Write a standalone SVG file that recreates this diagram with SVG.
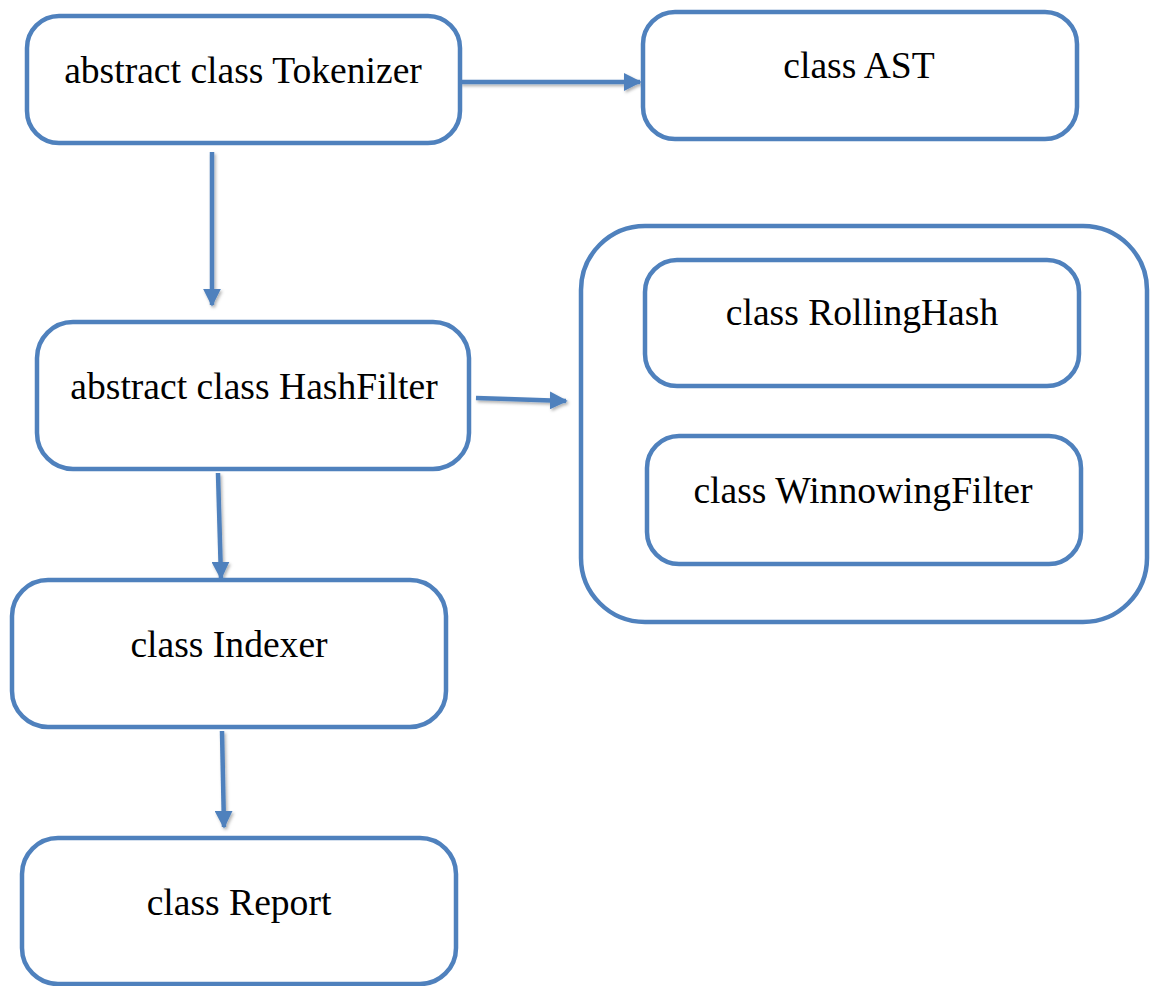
<svg xmlns="http://www.w3.org/2000/svg" width="1157" height="986" viewBox="0 0 1157 986">
<style>
.box{fill:#ffffff;stroke:#4F81BD;stroke-width:4.5}
.lbl{font-family:"Liberation Serif","Times New Roman",serif;font-size:37.6px;fill:#000;text-anchor:middle}
.conn{stroke:#4F81BD;stroke-width:4.5;fill:none;marker-end:url(#ah)}
</style>
<defs>
<marker id="ah" markerWidth="4" markerHeight="4" viewBox="0 0 10 10" refX="9" refY="5" orient="auto" markerUnits="strokeWidth">
<path d="M0,0 L10,5 L0,10 z" fill="#4F81BD"/>
</marker>
<filter id="sh" x="-20%" y="-20%" width="140%" height="140%">
<feDropShadow dx="1.5" dy="2" stdDeviation="1.5" flood-color="#000" flood-opacity="0.3"/>
</filter>
</defs>
<rect width="1157" height="986" fill="#ffffff"/>
<g id="connectors" filter="url(#sh)">
<line class="conn" x1="460" y1="82" x2="640" y2="82"/>
<line class="conn" x1="212" y1="152" x2="212" y2="305"/>
<line class="conn" x1="476" y1="398" x2="566" y2="401"/>
<line class="conn" x1="218" y1="473" x2="221" y2="578"/>
<line class="conn" x1="222" y1="731" x2="224" y2="827"/>
</g>
<g id="tokenizer"><rect class="box" x="27" y="16" width="433" height="127" rx="32"/><text class="lbl" x="243" y="83">abstract class Tokenizer</text></g>
<g id="ast"><rect class="box" x="643" y="12" width="434" height="127" rx="32"/><text class="lbl" x="859" y="78">class AST</text></g>
<g id="container"><rect class="box" x="581" y="226" width="566" height="396" rx="64"/></g>
<g id="rollinghash"><rect class="box" x="645" y="260" width="434" height="126" rx="32"/><text class="lbl" x="862" y="325">class RollingHash</text></g>
<g id="winnowing"><rect class="box" x="647" y="436" width="434" height="128" rx="32"/><text class="lbl" x="863" y="503">class WinnowingFilter</text></g>
<g id="hashfilter"><rect class="box" x="37" y="322" width="432" height="147" rx="36"/><text class="lbl" x="254" y="399">abstract class HashFilter</text></g>
<g id="indexer"><rect class="box" x="12" y="580" width="434" height="147" rx="36"/><text class="lbl" x="229" y="657">class Indexer</text></g>
<g id="report"><rect class="box" x="22" y="838" width="434" height="146" rx="36"/><text class="lbl" x="239" y="915">class Report</text></g>
</svg>
